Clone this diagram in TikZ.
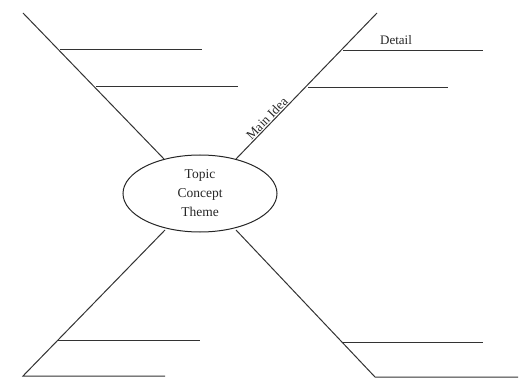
\documentclass[tikz,border=0pt]{standalone}
\usepackage{fontspec}
\setmainfont{Liberation Serif}
\usetikzlibrary{shapes.geometric}
\begin{document}
\begin{tikzpicture}[x=1pt,y=-1pt,
  ln/.style={draw=black!80,line width=1pt},
  lbl/.style={font=\fontsize{13}{15}\selectfont,text=black!85,inner sep=1pt}]
\useasboundingbox (0,0) rectangle (525,385);
\node[ellipse,draw=black!85,line width=1pt,minimum width=154pt,minimum height=77pt,inner sep=0pt,
  align=center,font=\fontsize{13.5}{19}\selectfont,text=black!85] (topic) at (200,193.5) {Topic\\Concept\\Theme};
% upper left
\coordinate (ulA) at (164,159);
\coordinate (ulB) at (23,13);
\coordinate (ul1) at (60,50);
\coordinate (ul1e) at (202,50);
\coordinate (ul2) at (96,87);
\coordinate (ul2e) at (238,87);
\draw[ln] (ulA) -- (ulB);
\draw[ln] (ul1) -- (ul1e);
\draw[ln] (ul2) -- (ul2e);
% upper right
\coordinate (urA) at (236,159);
\coordinate (urB) at (377,13);
\coordinate (ur1) at (343,51);
\coordinate (ur1e) at (483,51);
\coordinate (ur2) at (308,88);
\coordinate (ur2e) at (448,88);
\draw[ln] (urA) -- node[lbl,sloped,above,pos=0.25] (main) {Main Idea} (urB);
\draw[ln] (ur1) -- (ur1e);
\draw[ln] (ur2) -- (ur2e);
\node[lbl,anchor=base] (detail) at (396,45) {Detail};
% lower left
\coordinate (llA) at (165,230);
\coordinate (llB) at (23,376);
\coordinate (ll1) at (58,340);
\coordinate (ll1e) at (200,340);
\coordinate (ll2e) at (165,376);
\draw[ln] (llA) -- (llB) -- (ll2e);
\draw[ln] (ll1) -- (ll1e);
% lower right
\coordinate (lrA) at (236,230);
\coordinate (lrB) at (375,377);
\coordinate (lr1) at (343,342);
\coordinate (lr1e) at (483,342);
\coordinate (lr2e) at (518,377);
\draw[ln] (lrA) -- (lrB) -- (lr2e);
\draw[ln] (lr1) -- (lr1e);
\end{tikzpicture}
\end{document}
